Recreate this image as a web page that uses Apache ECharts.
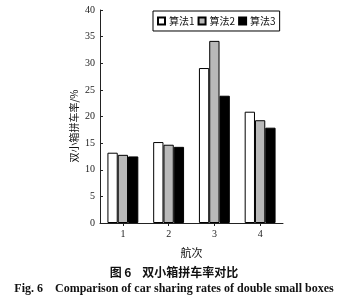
<!DOCTYPE html>
<html><head><meta charset="utf-8">
<script src="https://cdn.jsdelivr.net/npm/echarts@6/dist/echarts.min.js"></script>
<style>html,body{margin:0;padding:0;background:#fff}#c{width:358px;height:300px}</style>
</head><body><div id="c"></div>
<script>
var categories = ['1', '2', '3', '4'];
var seriesNames = ['算法1', '算法2', '算法3'];
var algo1 = [13.2, 15.2, 29.1, 20.9];
var algo2 = [12.8, 14.7, 34.2, 19.3];
var algo3 = [12.5, 14.3, 23.9, 17.9];
var yTicks = [0, 5, 10, 15, 20, 25, 30, 35, 40];

var serif = '"Liberation Serif", "Noto Sans CJK SC", serif';
var cjk = '"Noto Sans CJK SC", "Liberation Serif", sans-serif';
var colors = ['#ffffff', '#b9b9b9', '#000000'];
var data = [algo1, algo2, algo3];

var chart = echarts.init(document.getElementById('c'), null, {renderer: 'canvas'});
chart.setOption({
  animation: false,
  backgroundColor: '#fff',
  grid: {left: 100, top: 10, width: 183, bottom: 77},
  legend: {
    data: seriesNames.map(function (n) { return {name: n, icon: 'rect'}; }),
    left: 153, top: 11,
    padding: [5, 4],
    itemWidth: 7, itemHeight: 7, itemGap: 3,
    borderColor: '#000', borderWidth: 1,
    textStyle: {fontFamily: cjk, fontSize: 10, color: '#111', padding: [0, 0, 0, -1]}
  },
  xAxis: {
    type: 'category',
    data: categories,
    name: '航次',
    nameLocation: 'middle',
    nameGap: 24,
    nameTextStyle: {fontFamily: cjk, fontSize: 11, color: '#111'},
    axisLine: {lineStyle: {color: '#222', width: 1}},
    axisTick: {show: true, alignWithLabel: true, length: 3, lineStyle: {color: '#222'}},
    axisLabel: {fontFamily: serif, fontSize: 10, color: '#222', margin: 6}
  },
  yAxis: {
    type: 'value',
    min: yTicks[0], max: yTicks[yTicks.length - 1], interval: 5,
    axisLine: {show: true, lineStyle: {color: '#222', width: 1}},
    axisTick: {show: true, inside: true, length: 3, lineStyle: {color: '#222'}},
    splitLine: {show: false},
    axisLabel: {fontFamily: serif, fontSize: 10, color: '#222', margin: 5}
  },
  graphic: [{
    type: 'text',
    x: 74, y: 126,
    rotation: Math.PI / 2,
    style: {text: '双小箱拼车率/%', font: '10px ' + cjk, fill: '#111', align: 'center', verticalAlign: 'middle'}
  }, {
    type: 'text',
    x: 174, y: 272,
    style: {text: '图 6    双小箱拼车率对比', font: 'bold 12px ' + cjk, fill: '#111', align: 'center', verticalAlign: 'middle'}
  }, {
    type: 'text',
    x: 174, y: 289,
    style: {text: 'Fig. 6    Comparison of car sharing rates of double small boxes', font: 'bold 12px "Liberation Serif", serif', fill: '#111', align: 'center', verticalAlign: 'middle'}
  }],
  series: seriesNames.map(function (n, i) {
    return {
      name: n,
      type: 'bar',
      data: data[i],
      barWidth: 10.3,
      barGap: '0%',
      itemStyle: {color: colors[i], borderColor: '#000', borderWidth: 1}
    };
  })
});
</script></body></html>
